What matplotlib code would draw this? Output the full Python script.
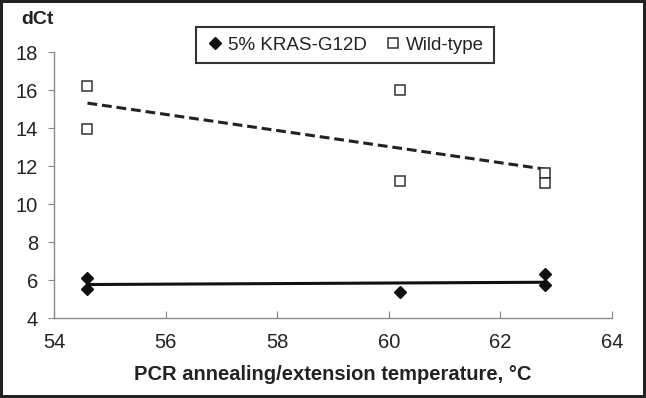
import numpy as np
import matplotlib.pyplot as plt

plt.rcParams['font.family'] = ['Liberation Sans', 'DejaVu Sans']

# Data
kras_temp = [54.6, 54.6, 60.2, 62.8, 62.8]
kras_dct = [6.12, 5.55, 5.38, 6.33, 5.75]
wt_temp = [54.6, 54.6, 60.2, 60.2, 62.8, 62.8]
wt_dct = [16.23, 13.96, 16.0, 11.23, 11.65, 11.09]

fig = plt.figure(figsize=(6.46, 3.98), dpi=100)
ax = fig.add_axes([54 / 646, 1 - 318 / 398, 558 / 646, 266 / 398])

# linear trendlines
k_fit = np.polyfit(kras_temp, kras_dct, 1)
w_fit = np.polyfit(wt_temp, wt_dct, 1)
xk = np.array([min(kras_temp), max(kras_temp)])
xw = np.array([min(wt_temp), max(wt_temp)])
ax.plot(xk, np.polyval(k_fit, xk), color='#111111', lw=2.2, zorder=2)
ax.plot(xw, np.polyval(w_fit, xw), color='#222222', lw=2.2, ls=(0, (3.2, 1.6)), zorder=2)

ax.plot(kras_temp, kras_dct, ls='none', marker='D', ms=6.5, color='#111111',
        label='5% KRAS-G12D', zorder=3)
ax.plot(wt_temp, wt_dct, ls='none', marker='s', ms=7, mfc='white', mec='#333333',
        mew=1.1, label='Wild-type', zorder=3)

ax.set_xlim(54, 64)
ax.set_ylim(4, 18)
ax.set_xticks([54, 56, 58, 60, 62, 64])
ax.set_yticks([4, 6, 8, 10, 12, 14, 16, 18])

for s in ['top', 'right']:
    ax.spines[s].set_visible(False)
for s in ['left', 'bottom']:
    ax.spines[s].set_color('#888888')
    ax.spines[s].set_linewidth(1)
ax.tick_params(axis='y', direction='out', length=4.5, color='#888888', labelsize=14.5,
               pad=7, labelcolor='#222222')
ax.tick_params(axis='x', direction='in', length=5, color='#888888', labelsize=14.5,
               pad=11, labelcolor='#222222')

ax.set_xlabel('PCR annealing/extension temperature, °C', fontsize=14.5, fontweight='bold',
              labelpad=9, color='#222222')
fig.text(21 / 646, 1 - 20 / 398, 'dCt', fontsize=14, fontweight='bold', ha='left',
         va='center', color='#222222')

leg = fig.legend(loc='upper center', bbox_to_anchor=(345 / 646, 1 - 27 / 398), ncol=2,
                 fontsize=13.5, frameon=True, fancybox=False, handletextpad=0.2,
                 columnspacing=0.9, borderpad=0.5, borderaxespad=0, handlelength=1.0)
leg.get_frame().set_edgecolor('black')
leg.get_frame().set_linewidth(1.5)
for t in leg.get_texts():
    t.set_color('#222222')

fig.patch.set_edgecolor('#222222')
fig.patch.set_linewidth(3)

fig.savefig('out.png', dpi=100)
